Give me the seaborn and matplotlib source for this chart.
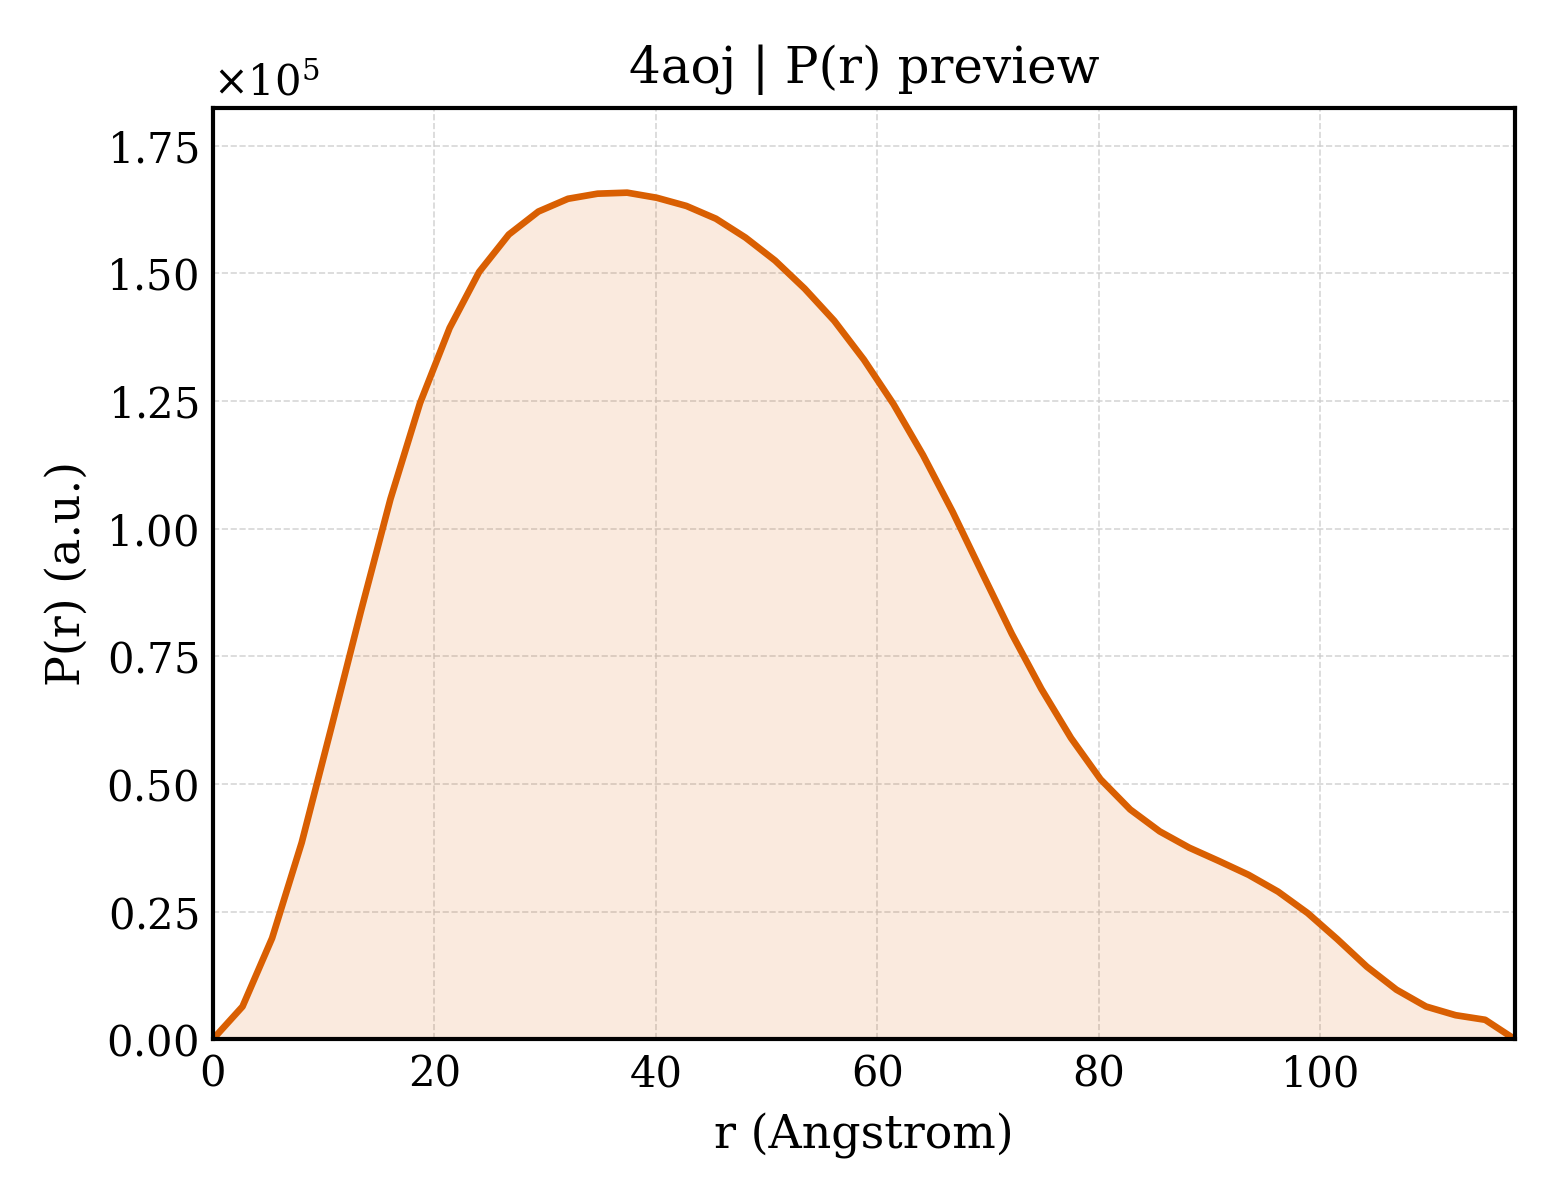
import numpy as np
import pandas as pd
import seaborn as sns
import matplotlib.pyplot as plt

# P(r) for 4aoj (45 points, 0 .. Dmax)
dmax = 117.56
r_vals = np.linspace(0, dmax, 45)
pr_vals = np.array([
    0.000, 0.064, 0.198, 0.385, 0.610, 0.838, 1.058, 1.246, 1.393, 1.503,
    1.576, 1.621, 1.646, 1.656, 1.658, 1.648, 1.632, 1.607, 1.570, 1.525,
    1.470, 1.407, 1.331, 1.244, 1.144, 1.033, 0.913, 0.794, 0.686, 0.590,
    0.509, 0.450, 0.407, 0.375, 0.349, 0.322, 0.289, 0.247, 0.196, 0.142,
    0.097, 0.064, 0.047, 0.038, 0.000,
]) * 1e5

title = "4aoj | P(r) preview"
xlabel = "r (Angstrom)"
ylabel = "P(r) (a.u.)"
color = "#D95F02"

sns.set_theme(style="white")
plt.rcParams['font.family'] = ['DejaVu Serif']
plt.rcParams['mathtext.fontset'] = 'dejavuserif'
plt.rcParams['text.color'] = 'black'
plt.rcParams['axes.labelcolor'] = 'black'

df = pd.DataFrame({"r": r_vals, "pr": pr_vals})

fig, ax = plt.subplots(figsize=(5.2, 4), dpi=300)
fig.subplots_adjust(left=0.1365, right=0.971, bottom=0.134, top=0.91)

sns.lineplot(data=df, x="r", y="pr", color=color, linewidth=1.6, ax=ax)
ax.fill_between(df["r"], df["pr"], color=color, alpha=0.13, linewidth=0)

ax.set_xlim(0, dmax)
ax.set_ylim(0, df["pr"].max() * 1.1)
ax.ticklabel_format(axis="y", style="sci", scilimits=(0, 0), useMathText=True)

ax.set_title(title, fontsize=12, color="black")
ax.set_xlabel(xlabel, fontsize=11, color="black")
ax.set_ylabel(ylabel, fontsize=11, color="black")
ax.tick_params(direction="in", length=4, width=0.9, labelsize=10, colors="black")
ax.yaxis.get_offset_text().set_fontsize(10)
ax.grid(True, linestyle="--", linewidth=0.4, color="#cccccc", alpha=0.8)
for s in ax.spines.values():
    s.set_color("black")
    s.set_linewidth(1.0)

fig.savefig("out.png", dpi=300)
